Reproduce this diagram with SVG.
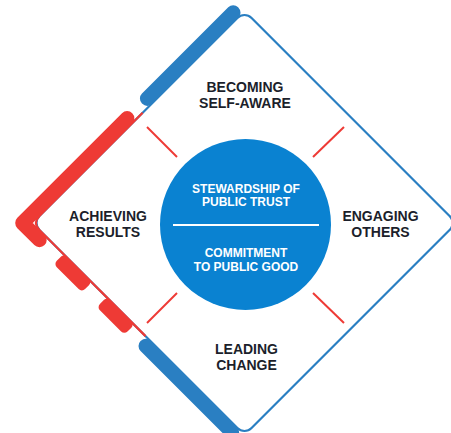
<svg xmlns="http://www.w3.org/2000/svg" width="451" height="433" viewBox="0 0 451 433">
<style>
.lbl{font-family:"Liberation Sans",Arial,sans-serif;font-weight:700;font-size:14px;fill:#1c1f2b;text-anchor:middle}
.in{font-family:"Liberation Sans",Arial,sans-serif;font-weight:700;font-size:12px;fill:#ffffff;text-anchor:middle}
.blue{fill:#2a7fc2}
.red{fill:#ee3a35}
.tick{stroke:#ee3a35;stroke-width:2;fill:none}
</style>
<rect width="451" height="433" fill="#ffffff"/>
<g id="frame" transform="translate(244.5,223) rotate(45)">
  <rect x="-150" y="-150" width="300" height="300" rx="10" fill="none" stroke="#2a7fc2" stroke-width="2.2"/>
  <path d="M -150,-6 L -150,140 Q -150,150 -140,150 L 10,150" fill="none" stroke="#ee3a35" stroke-width="2.2"/>
  <rect class="blue" x="-164" y="-148" width="14.5" height="136" rx="7"/>
  <path d="M -157,9 L -157,157 L -133,157" fill="none" stroke="#ee3a35" stroke-width="14.5" stroke-linecap="round" stroke-linejoin="round"/>
  <rect class="red" x="-106" y="149.5" width="40" height="14.5" rx="4.5"/>
  <rect class="red" x="-45" y="149.5" width="39" height="14.5" rx="4.5"/>
  <rect class="blue" x="10" y="149.5" width="136" height="14.5" rx="7"/>
</g>
<g id="connectors">
  <line class="tick" x1="147" y1="127" x2="177" y2="157"/>
  <line class="tick" x1="344" y1="127" x2="313" y2="157"/>
  <line class="tick" x1="177" y1="293" x2="147" y2="323"/>
  <line class="tick" x1="313" y1="293" x2="344" y2="323"/>
</g>
<g id="core">
  <circle cx="245.5" cy="224.5" r="85.5" fill="#0a82d1"/>
  <line x1="173" y1="225" x2="319" y2="225" stroke="#ffffff" stroke-width="2"/>
  <text class="in" x="246" y="193">STEWARDSHIP OF</text>
  <text class="in" x="246" y="206">PUBLIC TRUST</text>
  <text class="in" x="246" y="257">COMMITMENT</text>
  <text class="in" x="246" y="271">TO PUBLIC GOOD</text>
</g>
<g id="self-aware">
  <text class="lbl" x="245" y="92">BECOMING</text>
  <text class="lbl" x="245" y="108">SELF-AWARE</text>
</g>
<g id="achieving">
  <text class="lbl" x="108" y="221">ACHIEVING</text>
  <text class="lbl" x="108" y="237">RESULTS</text>
</g>
<g id="engaging">
  <text class="lbl" x="380.5" y="221">ENGAGING</text>
  <text class="lbl" x="380.5" y="237">OTHERS</text>
</g>
<g id="leading">
  <text class="lbl" x="246.5" y="354">LEADING</text>
  <text class="lbl" x="246.5" y="370">CHANGE</text>
</g>
</svg>
